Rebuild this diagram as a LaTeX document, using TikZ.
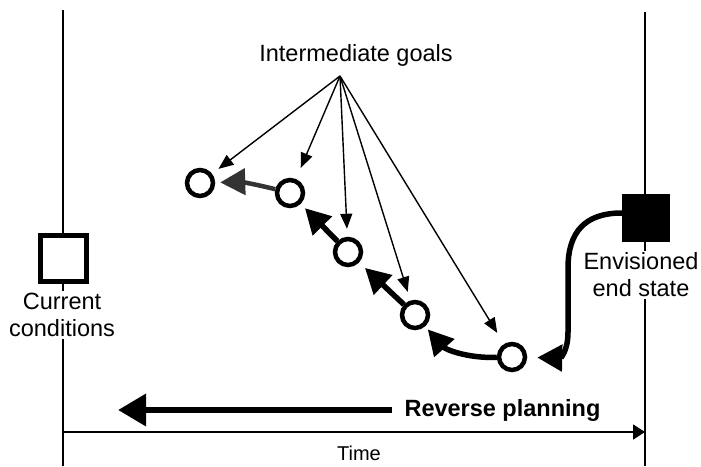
\documentclass[tikz,border=0pt]{standalone}
\usepackage{fontspec}
\setmainfont{Liberation Sans}
\usetikzlibrary{arrows.meta}
\begin{document}
\begin{tikzpicture}[x=1pt,y=-1pt,
  axisline/.style={line width=1.8pt},
  goal/.style={circle, draw, line width=4.5pt, minimum size=26pt, inner sep=0pt, fill=white},
  thickarrow/.style={line width=5.5pt, -{Triangle[length=25pt,width=26pt]}},
  thinarrow/.style={line width=1.4pt, -{Triangle[length=15pt,width=12pt]}},
  lbl/.style={font=\fontsize{23.5}{27}\selectfont, align=center, fill=white, inner sep=2pt}]
\useasboundingbox (0,0) rectangle (701,466);
% time boundaries
\coordinate (lt) at (63,10);
\coordinate (lb) at (63,466);
\coordinate (rt) at (645,12);
\coordinate (rb) at (645,466);
\draw[axisline] (lt) -- (lb);
\draw[axisline] (rt) -- (rb);
% states
\node[draw, line width=5pt, minimum size=46pt, inner sep=0pt, fill=white] (cur) at (63,258) {};
\node[fill=black, minimum size=48pt, inner sep=0pt] (env) at (646,218) {};
\node[lbl] (curtxt) at (62,315) {Current\\conditions};
\node[lbl] (envtxt) at (641,275) {Envisioned\\end state};
% goals
\node[goal] (g1) at (200,183) {};
\node[goal] (g2) at (290,193) {};
\node[goal] (g3) at (348,252) {};
\node[goal] (g4) at (415,315) {};
\node[goal] (g5) at (512,357) {};
\node[font=\fontsize{23.5}{27}\selectfont] (ig) at (356,55) {Intermediate goals};
\coordinate (apex) at (340,76);
% thin arrows
\draw[thinarrow, shorten >=8pt] (apex) -- (g1);
\draw[thinarrow, shorten >=12pt] (apex) -- (g2);
\draw[thinarrow, shorten >=8pt] (apex) -- (g3);
\draw[thinarrow, shorten >=9pt] (apex) -- (g4);
\draw[thinarrow, shorten >=13pt] (apex) -- (g5);
% reverse chain
\draw[thickarrow, shorten >=10pt] ([yshift=5pt]env.west) .. controls (585,213) and (568,232) .. (568,268) -- (568,332) .. controls (568,352) and (560,358) .. (g5);
\draw[thickarrow, shorten >=4pt] (g5) to[bend left=25] (g4);
\draw[thickarrow, shorten >=8pt] (g4) -- (g3);
\draw[thickarrow, shorten >=6pt] (g3) -- (g2);
\draw[thickarrow, draw=black!80, fill=black!80, line width=4.5pt, shorten >=5pt] (g2) to[bend right=8] (g1);
% time axis
\coordinate (ts) at (63,432);
\coordinate (te) at (645,432);
\draw[axisline, -{Triangle[length=12pt,width=15pt]}] (ts) -- (te);
\node[font=\fontsize{20}{23}\selectfont] (time) at (359,453) {Time};
% reverse planning
\node[font=\bfseries\fontsize{23.5}{27}\selectfont, anchor=west] (rp) at (401,410) {Reverse planning};
\coordinate (rpend) at (118,410);
\draw[line width=6.5pt, -{Triangle[length=28pt,width=31pt]}, shorten <=9pt] (rp.west) -- (rpend);
\end{tikzpicture}
\end{document}
